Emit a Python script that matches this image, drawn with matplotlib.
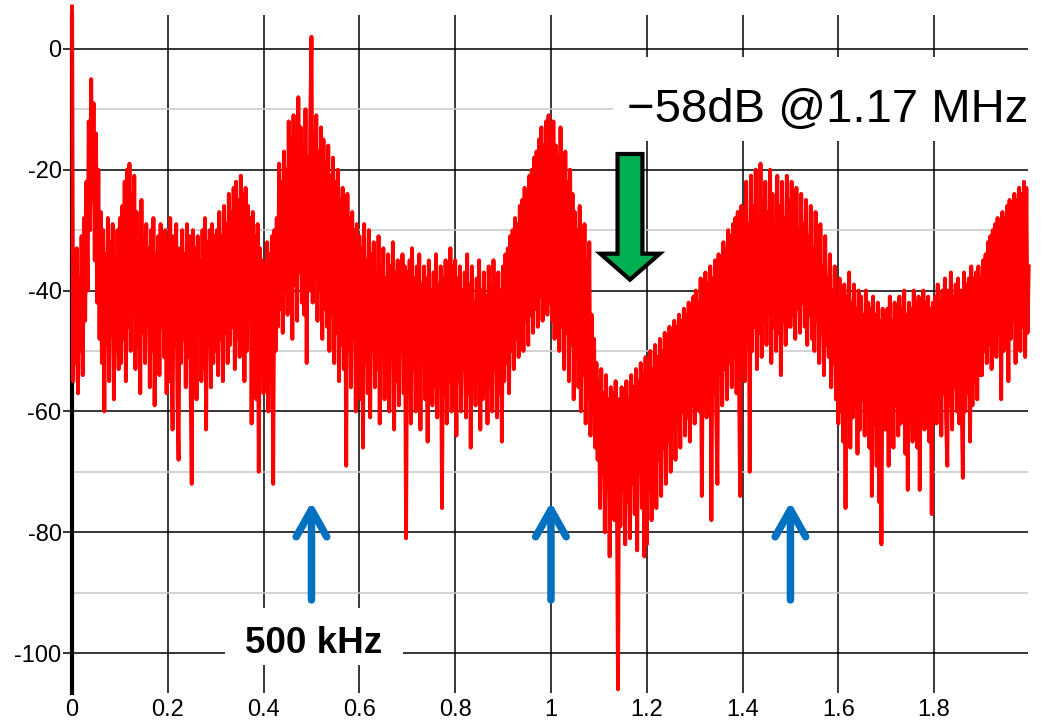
import numpy as np
import matplotlib
matplotlib.use("Agg")
import matplotlib.pyplot as plt
from matplotlib.patches import Rectangle, Polygon

plt.rcParams['font.family'] = ['Liberation Sans', 'DejaVu Sans']
plt.rcParams['axes.unicode_minus'] = False

# spectrum level in dB, one value every 2.5 kHz starting at 0 Hz (40 values per 100 kHz row pair)
level_db = [
    7, -55, -36, -52, -33, -57, -38, -50, -31, -54, -28, -45, -22, -40, -12, -30, -5, -25, -9, -35,
    -14, -42, -20, -48, -27, -52, -30, -60, -34, -49, -28, -55, -32, -47, -29, -58, -35, -50, -30, -53,
    -28, -52, -26, -48, -22, -55, -20, -46, -19, -50, -24, -44, -21, -53, -27, -49, -30, -57, -25, -47,
    -31, -52, -29, -45, -33, -56, -30, -50, -28, -59, -34, -48, -31, -54, -29, -46, -33, -51, -30, -57,
    -32, -55, -28, -50, -63, -31, -49, -29, -57, -68, -33, -52, -30, -48, -34, -56, -29, -51, -31, -54,
    -72, -30, -50, -33, -58, -31, -47, -35, -55, -30, -53, -28, -63, -32, -49, -30, -56, -29, -52, -31,
    -50, -30, -54, -27, -48, -31, -55, -26, -47, -29, -52, -24, -49, -27, -46, -23, -53, -22, -48, -25,
    -51, -21, -47, -24, -55, -23, -50, -26, -45, -28, -62, -27, -52, -31, -58, -29, -70, -33, -50, -35,
    -57, -36, -53, -32, -60, -34, -55, -31, -72, -30, -50, -28, -46, -19, -43, -22, -47, -17, -40, -20,
    -44, -12, -41, -15, -48, -11, -39, -14, -45, -8, -37, -13, -42, -16, -44, -10, -52, -18, -40, -12,
    2, -42, -14, -38, -11, -45, -17, -40, -13, -48, -15, -43, -19, -46, -16, -50, -21, -44, -18, -52,
    -22, -47, -20, -55, -25, -49, -23, -53, -26, -69, -24, -50, -28, -56, -27, -48, -30, -60, -29, -54,
    -31, -58, -33, -66, -29, -52, -35, -57, -30, -61, -34, -50, -32, -56, -37, -53, -31, -62, -36, -49,
    -33, -58, -38, -54, -34, -60, -36, -51, -32, -63, -37, -55, -35, -59, -38, -48, -34, -57, -36, -81,
    -37, -56, -35, -62, -33, -53, -38, -60, -36, -55, -34, -63, -39, -52, -36, -58, -38, -65, -35, -54,
    -40, -59, -37, -56, -34, -61, -39, -53, -36, -76, -38, -57, -35, -62, -37, -55, -33, -60, -36, -58,
    -35, -64, -38, -55, -36, -60, -40, -53, -37, -61, -34, -57, -39, -66, -36, -52, -42, -59, -38, -55,
    -35, -63, -40, -58, -37, -54, -41, -62, -36, -56, -39, -60, -35, -53, -38, -61, -37, -57, -40, -65,
    -36, -55, -34, -52, -33, -57, -31, -50, -30, -53, -28, -48, -29, -51, -26, -47, -25, -50, -23, -45,
    -24, -49, -21, -44, -20, -47, -18, -43, -17, -46, -15, -41, -13, -45, -16, -40, -12, -44, -11, -42,
    -14, -45, -12, -48, -16, -43, -18, -50, -13, -46, -19, -53, -17, -47, -22, -55, -20, -49, -24, -58,
    -27, -51, -30, -56, -26, -60, -33, -54, -29, -62, -35, -58, -32, -64, -44, -60, -48, -66, -52, -68,
    -55, -76, -53, -70, -57, -80, -54, -72, -58, -84, -56, -74, -57, -78, -55, -71, -106, -58, -79, -56,
    -73, -57, -82, -55, -75, -58, -81, -54, -72, -56, -77, -53, -83, -55, -70, -52, -76, -54, -84, -51,
    -82, -52, -73, -50, -78, -53, -70, -49, -76, -51, -68, -48, -74, -50, -66, -47, -72, -48, -65, -46,
    -70, -47, -63, -45, -68, -46, -62, -44, -66, -45, -60, -43, -64, -44, -61, -42, -65, -43, -59, -41,
    -62, -40, -58, -42, -60, -38, -74, -41, -56, -37, -61, -39, -55, -36, -78, -38, -57, -35, -60, -72,
    -34, -54, -36, -59, -32, -53, -33, -58, -30, -52, -31, -56, -29, -51, -28, -57, -27, -53, -74, -26,
    -52, -27, -55, -22, -48, -29, -70, -21, -50, -26, -46, -20, -53, -28, -47, -19, -51, -25, -45, -22,
    -49, -27, -44, -20, -52, -24, -46, -29, -50, -21, -47, -26, -54, -22, -45, -28, -49, -21, -46, -25,
    -46, -22, -44, -28, -48, -23, -43, -30, -47, -24, -42, -29, -46, -25, -49, -31, -44, -26, -48, -33,
    -50, -27, -45, -34, -52, -29, -47, -36, -54, -31, -49, -38, -51, -34, -56, -40, -52, -36, -58, -41,
    -62, -38, -60, -40, -65, -39, -76, -41, -58, -37, -66, -42, -61, -39, -59, -43, -67, -40, -63, -41,
    -58, -44, -64, -40, -60, -42, -66, -43, -74, -41, -62, -44, -69, -42, -75, -45, -82, -43, -63, -45,
    -63, -43, -69, -41, -60, -45, -66, -42, -59, -44, -64, -41, -62, -43, -58, -40, -67, -44, -73, -42,
    -61, -43, -65, -40, -60, -42, -66, -41, -73, -43, -58, -40, -63, -42, -61, -41, -65, -43, -77, -42,
    -60, -41, -62, -39, -58, -42, -64, -40, -57, -38, -61, -69, -40, -59, -37, -63, -41, -56, -39, -60,
    -38, -62, -40, -58, -71, -37, -60, -39, -57, -38, -65, -36, -59, -38, -55, -37, -58, -36, -54, -38,
    -54, -35, -50, -34, -52, -32, -49, -31, -53, -30, -48, -29, -51, -28, -47, -30, -58, -27, -50, -28,
    -46, -26, -55, -25, -48, -27, -45, -24, -52, -25, -47, -23, -50, -24, -46, -22, -51, -23, -47, -36,
]
freq_step_mhz = 0.0025
freq_mhz = np.arange(len(level_db)) * freq_step_mhz

x_ticks = [0, 0.2, 0.4, 0.6, 0.8, 1, 1.2, 1.4, 1.6, 1.8]
x_tick_labels = ['0', '0.2', '0.4', '0.6', '0.8', '1', '1.2', '1.4', '1.6', '1.8']
y_ticks = [0, -20, -40, -60, -80, -100]
y_minor = [-10, -30, -50, -70, -90]

harmonic_marks = [0.5, 1.0, 1.5]
notch_freq = 1.165
notch_text = '\u221258dB @1.17 MHz'
fund_text = '500 kHz'

fig = plt.figure(figsize=(10.42, 7.21), dpi=100)
ax = fig.add_axes([72 / 1042, 1 - 693 / 721, 956 / 1042, 678 / 721])
ax.set_xlim(0, 1.996)
ax.set_ylim(-106.6, 5.6)

ax.plot(freq_mhz, level_db, color='#ff0000', lw=2.8, zorder=3, clip_on=False)

ax.set_xticks(x_ticks)
ax.set_xticklabels(x_tick_labels)
ax.set_yticks(y_ticks)
ax.set_yticks(y_minor, minor=True)
ax.set_axisbelow(True)
ax.grid(which='major', color='black', lw=1.1)
ax.grid(which='minor', axis='y', color='#c8c8c8', lw=1.1)
ax.tick_params(axis='x', length=0, pad=4.5, labelsize=17)
ax.tick_params(axis='y', which='major', length=6.5, width=1.1, pad=1, labelsize=17)
ax.tick_params(axis='y', which='minor', length=0)

for s in ['top', 'right', 'bottom']:
    ax.spines[s].set_visible(False)
ax.spines['left'].set_linewidth(3)

# white label boxes over the grid
ax.add_patch(Rectangle((1.129, -15.2), 0.87, 13.9, facecolor='white',
                       edgecolor='none', zorder=4, clip_on=False))
ax.text(1.996, -12.1, notch_text, ha='right', va='baseline', fontsize=34, zorder=5)

ax.add_patch(Rectangle((0.319, -102.0), 0.372, 9.5, facecolor='white',
                       edgecolor='none', zorder=4))
ax.text(0.504, -100, fund_text, ha='center', va='baseline', fontsize=26.5,
        fontweight='bold', zorder=5)

# blue harmonic markers
for f in harmonic_marks:
    ax.annotate('', xy=(f, -75.0), xytext=(f, -91.2),
                arrowprops=dict(arrowstyle='->,head_length=1.95,head_width=1.1',
                                lw=5.4, color='#0070c0', mutation_scale=10,
                                shrinkA=0, shrinkB=0, capstyle='round'),
                zorder=4)

# green notch arrow
sw, hw = 0.026, 0.062
top, base, tip = -17.4, -33.9, -38.2
arrow = Polygon([(notch_freq - sw, top), (notch_freq + sw, top), (notch_freq + sw, base),
                 (notch_freq + hw, base), (notch_freq, tip), (notch_freq - hw, base),
                 (notch_freq - sw, base)], closed=True, facecolor='#00b050',
                edgecolor='black', lw=3, joinstyle='miter', zorder=5)
ax.add_patch(arrow)

fig.savefig('out.png', dpi=100)
